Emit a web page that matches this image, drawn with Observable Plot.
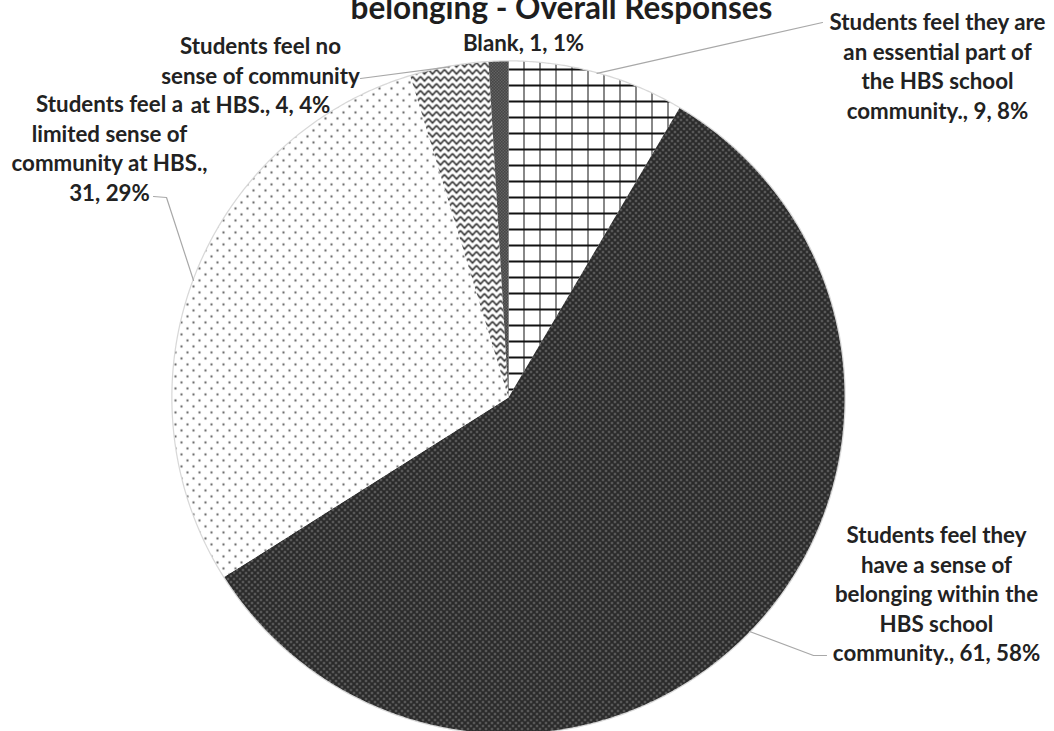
<!DOCTYPE html>
<html>
<head>
<meta charset="utf-8">
<script src="https://cdn.jsdelivr.net/npm/d3@7"></script>
<script src="https://cdn.jsdelivr.net/npm/@observablehq/plot@0.6"></script>
<style>
  html, body { margin: 0; padding: 0; background: #fff; overflow: hidden; }
</style>
</head>
<body>
<div id="chart"></div>
<script>
// ---------------- DATA ----------------
const title = "belonging - Overall Responses";
const categories = [
  "Students feel they are an essential part of the HBS school community.",
  "Students feel they have a sense of belonging within the HBS school community.",
  "Students feel a limited sense of community at HBS.",
  "Students feel no sense of community at HBS.",
  "Blank"
];
const counts = [9, 61, 31, 4, 1];
const percents = [8, 58, 29, 4, 1];
// label text as wrapped in the original chart
const labelLines = [
  ["Students feel they are", "an essential part of", "the HBS school", "community., 9, 8%"],
  ["Students feel they", "have a sense of", "belonging within the", "HBS school", "community., 61, 58%"],
  ["Students feel a", "limited sense of", "community at HBS.,", "31, 29%"],
  ["Students feel no", "sense of community", "at HBS., 4, 4%"],
  ["Blank, 1, 1%"]
];
const patternIds = ["crosshatch", "darkdots", "lightdots", "zigzag", "checker"];

// ---------------- LAYOUT ----------------
const W = 1054, H = 731;
const CX = 508, CY = 397, R = 336;
const FONT = "Lato, 'Open Sans', sans-serif";
const labelFont = 22.3, lineH = 29.6;
// label block: center x, first line center y
const labelAnchor = [[937, 20], [936, 533], [109, 102], [260, 44], [523, 41]];
// leader path after the slice edge point (null = no leader)
const leaderTail = [
  [[822, 22]],
  [[813, 655], [826, 655]],
  [[166, 197], [153, 196]],
  [[360, 78]],
  null
];

// ---------------- GEOMETRY ----------------
const arcs = d3.pie().sort(null).value(d => d)(counts);
const pt = (a, r) => [CX + r * Math.sin(a), CY - r * Math.cos(a)];

const slicePts = [];
arcs.forEach((a, i) => {
  const n = Math.max(2, Math.ceil((a.endAngle - a.startAngle) / 0.005));
  const fill = `url(#${patternIds[i]})`;
  slicePts.push({k: i, x: CX, y: CY, fill});
  for (let j = 0; j <= n; j++) {
    const t = a.startAngle + (a.endAngle - a.startAngle) * j / n;
    const [x, y] = pt(t, R);
    slicePts.push({k: i, x, y, fill});
  }
  slicePts.push({k: i, x: CX, y: CY, fill});
});

const outline = d3.range(0, 721).map(j => {
  const [x, y] = pt(j / 720 * 2 * Math.PI, R);
  return {x, y};
});

const leaders = [];
arcs.forEach((a, i) => {
  if (!leaderTail[i]) return;
  const [x0, y0] = pt((a.startAngle + a.endAngle) / 2, R);
  leaders.push({k: i, x: x0, y: y0});
  leaderTail[i].forEach(([x, y]) => leaders.push({k: i, x, y}));
});

const labels = categories.map((c, i) => {
  const n = labelLines[i].length;
  return {
    text: labelLines[i].join("\n"),
    x: labelAnchor[i][0],
    y: labelAnchor[i][1] + (n - 1) * lineH / 2
  };
});

// ---------------- PLOT ----------------
const svg = Plot.plot({
  width: W,
  height: H,
  margin: 0,
  style: {fontFamily: FONT, background: "#fff"},
  x: {domain: [0, W], range: [0, W], axis: null},
  y: {domain: [0, H], range: [0, H], axis: null},
  color: {type: "identity"},
  marks: [
    Plot.line(outline, {x: "x", y: "y", stroke: "#c8c8c8", strokeWidth: 2.5, strokeOpacity: 0.7}),
    Plot.line(slicePts, {x: "x", y: "y", z: "k", fill: "fill", stroke: "none", curve: "linear"}),
    Plot.line(leaders, {x: "x", y: "y", z: "k", stroke: "#a8a8a8", strokeWidth: 1.2}),
    Plot.text(labels, {
      x: "x", y: "y", text: "text",
      fontSize: labelFont, fontWeight: "bold", fill: "#222",
      lineHeight: lineH / labelFont, textAnchor: "middle", lineAnchor: "middle"
    }),
    Plot.text([title], {
      x: () => 561, y: () => 8, text: d => d,
      fontSize: 31.5, fontWeight: "bold", fill: "#1e1e1e",
      textAnchor: "middle", lineAnchor: "middle"
    })
  ]
});

// pattern fills
const defs = d3.select(svg).insert("defs", ":first-child");
function pat(id, w, h) {
  return defs.append("pattern").attr("id", id)
    .attr("patternUnits", "userSpaceOnUse")
    .attr("x", CX).attr("y", CY)
    .attr("width", w).attr("height", h);
}
// cross-hatch grid
let p = pat("crosshatch", 16, 16);
p.append("rect").attr("width", 16).attr("height", 16).attr("fill", "#fff");
p.append("rect").attr("x", 15).attr("width", 2).attr("height", 16).attr("fill", "#111");
p.append("rect").attr("y", 7).attr("width", 16).attr("height", 2).attr("fill", "#111");
// dark with light dots
p = pat("darkdots", 6, 6);
p.append("rect").attr("width", 6).attr("height", 6).attr("fill", "#2a2a2a");
p.append("circle").attr("cx", 1.5).attr("cy", 1.5).attr("r", 1).attr("fill", "#8a8a8a");
p.append("circle").attr("cx", 4.5).attr("cy", 4.5).attr("r", 1).attr("fill", "#8a8a8a");
// light dots
p = pat("lightdots", 12, 12);
p.append("rect").attr("width", 12).attr("height", 12).attr("fill", "#fff");
p.append("circle").attr("cx", 3).attr("cy", 3).attr("r", 1.15).attr("fill", "#666");
p.append("circle").attr("cx", 9).attr("cy", 9).attr("r", 1.15).attr("fill", "#666");
// zigzag
p = pat("zigzag", 8, 7);
p.append("rect").attr("width", 8).attr("height", 7).attr("fill", "#fff");
p.append("path").attr("d", "M0,1 L4,5.5 L8,1").attr("fill", "none")
  .attr("stroke", "#2e2e2e").attr("stroke-width", 1.6);
// fine checker
p = pat("checker", 3, 3);
p.append("rect").attr("width", 3).attr("height", 3).attr("fill", "#8a8a8a");
p.append("rect").attr("width", 1.5).attr("height", 1.5).attr("fill", "#1a1a1a");
p.append("rect").attr("x", 1.5).attr("y", 1.5).attr("width", 1.5).attr("height", 1.5).attr("fill", "#1a1a1a");

document.getElementById("chart").appendChild(svg);
</script>
</body>
</html>
